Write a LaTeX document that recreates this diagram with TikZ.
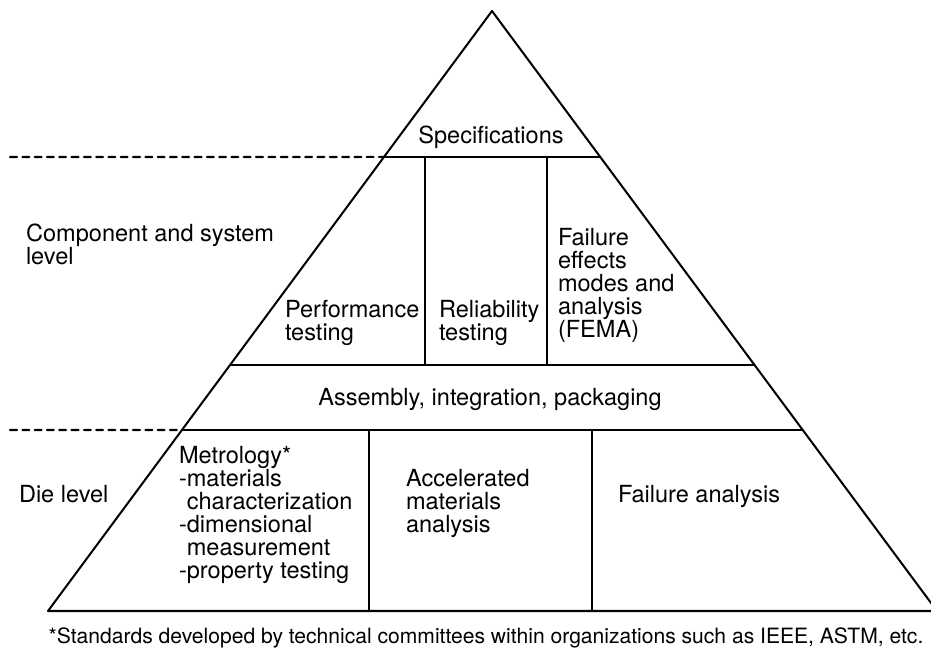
\documentclass[tikz,border=0pt]{standalone}
\usepackage{fontspec}
\setmainfont{TeX Gyre Heros}
\usetikzlibrary{calc}

\tikzset{
  txt/.style={inner sep=0pt, anchor=base west, align=left, font=\fontsize{13.4}{13}\selectfont},
  levelline/.style={dash pattern=on 4pt off 3pt},
}

\begin{document}
\begin{tikzpicture}[line cap=round,line join=round,x=0.02cm,y=-0.02cm,line width=1.15pt]
\useasboundingbox (0,0) rectangle (931,647);
% pyramid
\coordinate (apex) at (492,11);
\coordinate (bl) at (48,611);
\coordinate (br) at (937,611);
\draw (apex) -- (bl) -- (br) -- cycle;
% band edges on the two sides
\coordinate (specL) at ($(apex)!0.2433!(bl)$);
\coordinate (specR) at ($(apex)!0.2433!(br)$);
\coordinate (asmL) at ($(apex)!0.59!(bl)$);
\coordinate (asmR) at ($(apex)!0.59!(br)$);
\coordinate (dieL) at ($(apex)!0.6983!(bl)$);
\coordinate (dieR) at ($(apex)!0.6983!(br)$);
\draw (specL) -- (specR);
\draw (asmL) -- (asmR);
\draw (dieL) -- (dieR);
% column dividers
\draw (425,157) -- (425,365);
\draw (547,157) -- (547,365);
\draw (369,430) -- (369,611);
\draw (592,430) -- (592,611);
% level marks
\coordinate (m1) at (10,157);
\coordinate (m2) at (10,430);
\draw[levelline] (m1) -- (specL);
\draw[levelline] (m2) -- (dieL);

% multi-line nodes sit on the baseline of their last line
\node[txt, anchor=base] (spec) at (491,143) {Specifications};
\node[txt] (csl) at (25,264) {Component and system\\level};
\node[txt] (perf) at (284,340) {Performance\\testing};
\node[txt] (rel) at (438,340) {Reliability\\testing};
\node[txt] (fema) at (557,337) {Failure\\effects\\modes and\\analysis\\(FEMA)};
\node[txt, anchor=base] (asm) at (490,405) {Assembly, integration, packaging};
\node[txt] (die) at (18,502) {Die level};
\node[txt] (met) at (178,578) {Metrology*\\-materials\\\hphantom{-}characterization\\-dimensional\\\hphantom{-}measurement\\-property testing};
\node[txt] (acc) at (405,532) {Accelerated\\materials\\analysis};
\node[txt] (fail) at (617,502) {Failure analysis};
\node[txt, anchor=base, font=\fontsize{12}{12}\selectfont] (note) at (486,643)
  {*Standards developed by technical committees within organizations such as IEEE, ASTM, etc.};
\end{tikzpicture}
\end{document}
